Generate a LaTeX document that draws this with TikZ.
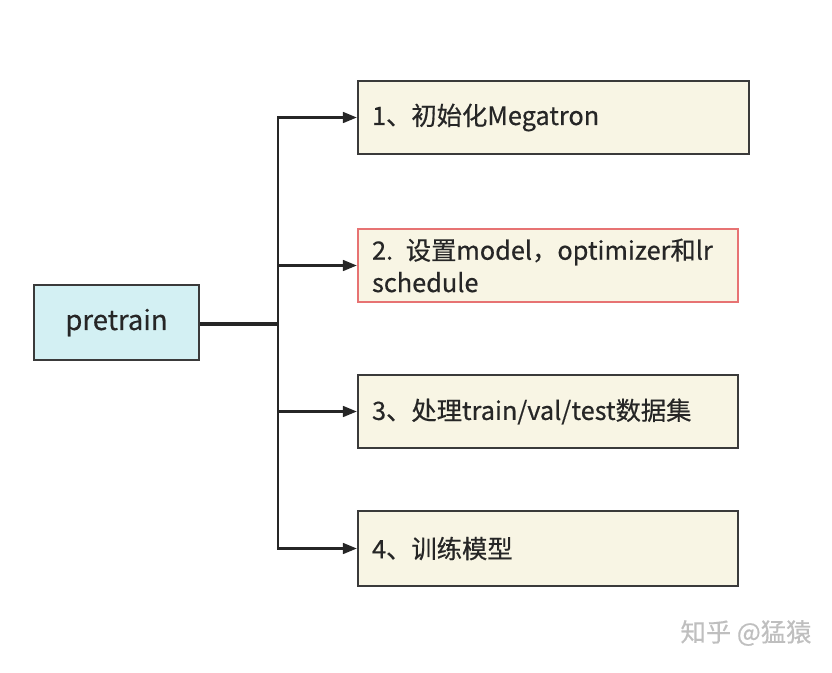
\documentclass[tikz,border=0pt]{standalone}
\usepackage{fontspec}
\setmainfont{Noto Sans CJK SC}[FakeBold=0.5]
\usepackage{xcolor}
\usetikzlibrary{positioning,calc,arrows.meta}

\definecolor{boxcyan}{HTML}{D3F0F3}
\definecolor{boxcream}{HTML}{F8F5E4}
\definecolor{edgegray}{HTML}{3A3A3A}
\definecolor{edgered}{HTML}{E77373}

\tikzset{
  stage/.style={draw=edgegray, line width=1.4pt, fill=boxcream, anchor=west,
    text width=#1, inner xsep=10pt, minimum height=52pt, align=left,
    font=\fontsize{18}{23}\selectfont, text=black!85},
  stage/.default=250pt,
  link/.style={draw=black!85, line width=2pt},
}

\begin{document}
\begin{tikzpicture}[x=0.025cm, y=-0.025cm]
    \useasboundingbox (0,0) rectangle (832,672);

    \node[draw=edgegray, line width=1.4pt, fill=boxcyan, minimum width=118pt, minimum height=53pt,
          font=\fontsize{19.5}{22}\selectfont, text=black!85] (pretrain) at (116.5,322.5) {pretrain};

    % four steps
    \node[stage=258pt] (init) at (357,117.5) {1、初始化Megatron};
    \node[stage, draw=edgered] (setup) at (357,265.5) {2. 设置model，optimizer和lr\\schedule};
    \node[stage] (data) at (357,411.5) {3、处理train/val/test数据集};
    \node[stage, minimum height=54pt] (train) at (357,548.5) {4、训练模型};

    \coordinate (trunk) at (278,324);
    \draw[link, line width=2.6pt] (pretrain.east |- trunk) -- (trunk);
    \foreach \n in {init,setup,data,train} {
        \draw[link, -{Triangle[length=10pt,width=7.5pt]}] (trunk) |- (\n.west);
    }

    \node[text=black!25, font=\fontsize{18}{20}\selectfont] (mark) at (746,633) {知乎 @猛猿};
\end{tikzpicture}
\end{document}
